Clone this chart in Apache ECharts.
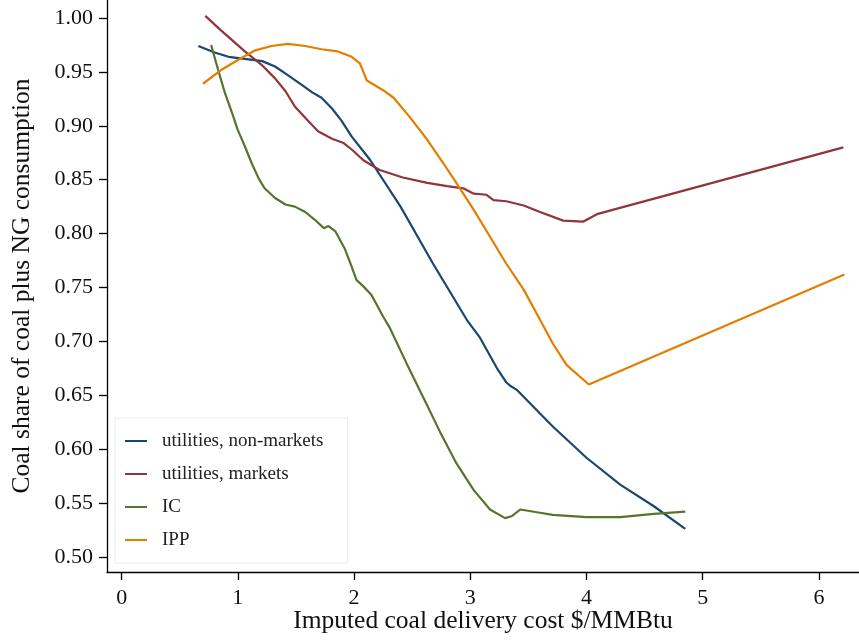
<!DOCTYPE html>
<html>
<head>
<meta charset="utf-8">
<script src="https://cdn.jsdelivr.net/npm/echarts@6/dist/echarts.min.js"></script>
<style>
  html, body { margin: 0; padding: 0; background: #fff; }
  #chart { width: 859px; height: 640px; }
</style>
</head>
<body>
<div id="chart"></div>
<script>
// tick values
var xTicks = [0, 1, 2, 3, 4, 5, 6];
var yTicks = [0.50, 0.55, 0.60, 0.65, 0.70, 0.75, 0.80, 0.85, 0.90, 0.95, 1.00];

// series names
var seriesNames = ['utilities, non-markets', 'utilities, markets', 'IC', 'IPP'];

// [cost, share]
var nonMarkets = [[0.66, 0.974], [0.80, 0.968], [0.92, 0.964], [1.06, 0.962], [1.21, 0.960], [1.32, 0.955],
	[1.43, 0.947], [1.55, 0.938], [1.64, 0.931], [1.72, 0.926], [1.81, 0.916], [1.89, 0.905], [1.98, 0.890],
	[2.09, 0.875], [2.14, 0.868], [2.40, 0.825], [2.68, 0.772], [2.97, 0.720], [3.08, 0.704], [3.23, 0.675],
	[3.31, 0.662], [3.34, 0.659], [3.40, 0.655], [3.60, 0.633], [3.71, 0.621], [4.00, 0.592], [4.29, 0.567],
	[4.58, 0.547], [4.85, 0.526]];

var markets = [[0.72, 1.002], [0.85, 0.989], [1.06, 0.969], [1.21, 0.956], [1.32, 0.944], [1.41, 0.932],
	[1.49, 0.918], [1.61, 0.904], [1.69, 0.895], [1.81, 0.888], [1.91, 0.884], [1.98, 0.878], [2.08, 0.868],
	[2.22, 0.859], [2.42, 0.852], [2.63, 0.847], [2.80, 0.844], [2.94, 0.842], [3.03, 0.837], [3.14, 0.836],
	[3.20, 0.831], [3.31, 0.830], [3.46, 0.826], [3.60, 0.820], [3.80, 0.812], [3.97, 0.811], [4.09, 0.818],
	[6.21, 0.880]];

var icData = [[0.77, 0.975], [0.83, 0.952], [0.89, 0.930], [0.95, 0.912], [1.00, 0.896], [1.06, 0.881],
	[1.12, 0.865], [1.18, 0.851], [1.23, 0.842], [1.32, 0.833], [1.41, 0.827], [1.49, 0.825], [1.58, 0.820],
	[1.66, 0.813], [1.74, 0.805], [1.78, 0.807], [1.84, 0.802], [1.92, 0.786], [1.98, 0.769], [2.02, 0.757],
	[2.08, 0.751], [2.15, 0.743], [2.25, 0.723], [2.31, 0.712], [2.45, 0.680], [2.60, 0.647], [2.74, 0.616],
	[2.88, 0.587], [3.03, 0.562], [3.17, 0.544], [3.30, 0.536], [3.36, 0.538], [3.43, 0.544], [3.60, 0.541],
	[3.71, 0.539], [4.00, 0.537], [4.29, 0.537], [4.58, 0.540], [4.85, 0.542]];

var ippData = [[0.70, 0.939], [0.86, 0.952], [1.00, 0.961], [1.15, 0.970], [1.29, 0.974], [1.43, 0.976],
	[1.58, 0.974], [1.72, 0.971], [1.86, 0.969], [1.98, 0.964], [2.05, 0.958], [2.08, 0.950], [2.11, 0.942],
	[2.25, 0.933], [2.34, 0.926], [2.48, 0.908], [2.63, 0.887], [2.77, 0.865], [2.88, 0.847], [3.03, 0.822],
	[3.17, 0.797], [3.31, 0.772], [3.46, 0.748], [3.60, 0.720], [3.71, 0.698], [3.83, 0.678], [4.02, 0.660],
	[6.22, 0.762]];

var colors = ['#1a476f', '#90353b', '#55752f', '#e37e00'];
var font = 'Liberation Serif';

function lineSeries(name, data) {
	return {
		name: name,
		type: 'line',
		data: data,
		showSymbol: false,
		symbol: 'none',
		lineStyle: { width: 2.2 },
		animation: false
	};
}

var chart = echarts.init(document.getElementById('chart'));
chart.setOption({
	color: colors,
	animation: false,
	grid: { left: 107, right: 0, top: 0, bottom: 68, outerBoundsMode: 'none' },
	legend: {
		orient: 'vertical',
		left: 115,
		top: 418,
		padding: [13, 24, 13, 10],
		itemGap: 13,
		itemWidth: 22,
		itemHeight: 2,
		icon: 'rect',
		backgroundColor: '#fff',
		borderColor: '#e6edf0',
		borderWidth: 1,
		borderRadius: 0,
		data: seriesNames,
		textStyle: { fontFamily: font, fontSize: 19, color: '#222', lineHeight: 20, padding: [0, 0, 0, 10] }
	},
	xAxis: {
		type: 'value',
		min: -0.126,
		max: 6.345,
		name: 'Imputed coal delivery cost $/MMBtu',
		nameLocation: 'middle',
		nameGap: 36,
		nameMoveOverlap: false,
		nameTextStyle: { fontFamily: font, fontSize: 25.5, color: '#111' },
		splitLine: { show: false },
		axisLine: { onZero: false, lineStyle: { color: '#000', width: 1.3 } },
		axisTick: { customValues: xTicks, length: 8, lineStyle: { color: '#000', width: 1.3 } },
		axisLabel: { customValues: xTicks, margin: 15, fontFamily: font, fontSize: 22, color: '#111' }
	},
	yAxis: {
		type: 'value',
		min: 0.486,
		max: 1.0167,
		name: 'Coal share of coal plus NG consumption',
		nameLocation: 'middle',
		nameGap: 72,
		nameMoveOverlap: false,
		nameTextStyle: { fontFamily: font, fontSize: 25.5, color: '#111' },
		splitLine: { show: false },
		axisLine: { show: true, onZero: false, lineStyle: { color: '#000', width: 1.3 } },
		axisTick: { show: true, customValues: yTicks, length: 8, lineStyle: { color: '#000', width: 1.3 } },
		axisLabel: {
			customValues: yTicks, margin: 14, fontFamily: font, fontSize: 22, color: '#111',
			formatter: function (v) { return v.toFixed(2); }
		}
	},
	series: [
		lineSeries(seriesNames[0], nonMarkets),
		lineSeries(seriesNames[1], markets),
		lineSeries(seriesNames[2], icData),
		lineSeries(seriesNames[3], ippData)
	]
});
</script>
</body>
</html>
